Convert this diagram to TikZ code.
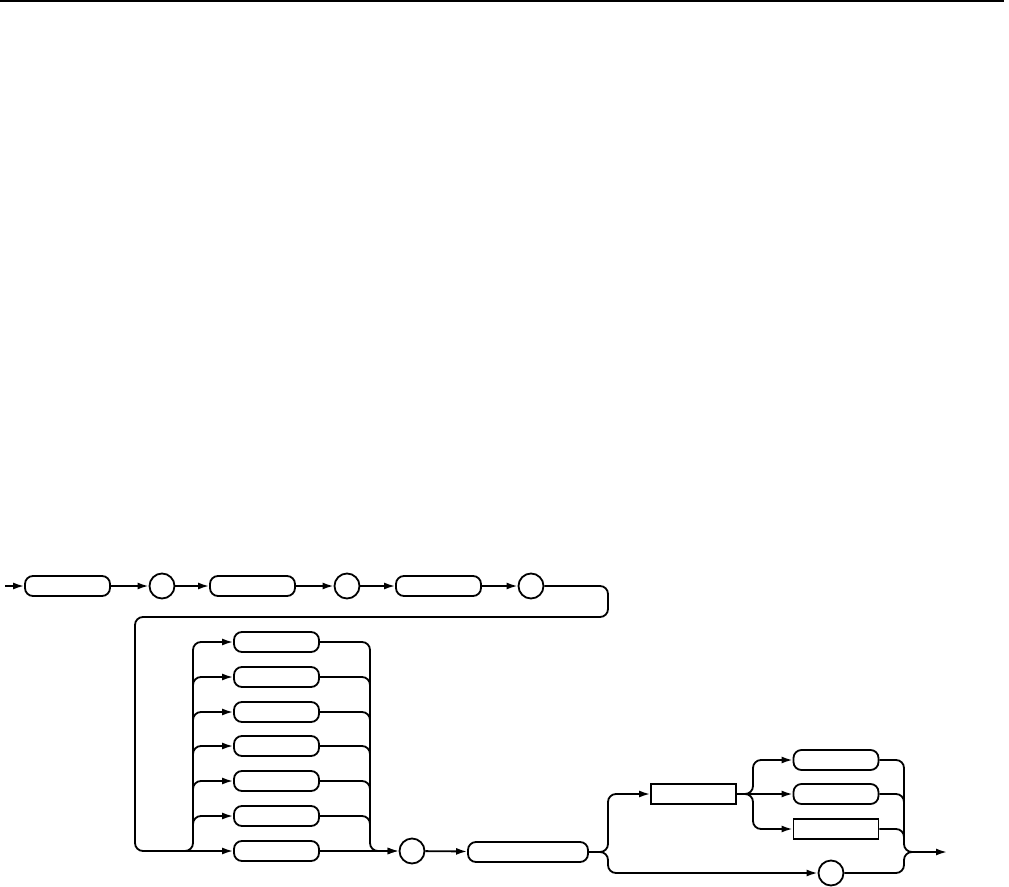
\documentclass[tikz,border=0pt]{standalone}
\usetikzlibrary{arrows.meta}
\tikzset{
  wire/.style={line width=1.8pt, rounded corners=8pt},
  arr/.style={wire, -{Latex[length=11pt,width=7pt]}},
  rbox/.style={draw, line width=1.8pt, rounded corners=8pt, minimum width=85pt, minimum height=20pt, inner sep=0pt},
  sbox/.style={draw, line width=1.8pt, minimum width=85pt, minimum height=20pt, inner sep=0pt},
  circ/.style={draw, line width=1.8pt, circle, minimum size=25pt, inner sep=0pt}
}
\begin{document}
\begin{tikzpicture}[x=1pt,y=-1pt]
\useasboundingbox (0,0) rectangle (1009,886);
\draw[line width=1.5pt] (0,1) -- (1004,1);
% top row
\coordinate (in) at (5,586);
\node[rbox] (b1) at (67.5,586) {};
\node[circ] (c1) at (162,586) {};
\node[rbox] (b2) at (252.5,586) {};
\node[circ] (c2) at (347,586) {};
\node[rbox] (b3) at (438.5,586) {};
\node[circ] (c3) at (531,586) {};
\draw[arr] (in) -- (b1);
\draw[arr] (b1) -- (c1);
\draw[arr] (c1) -- (b2);
\draw[arr] (b2) -- (c2);
\draw[arr] (c2) -- (b3);
\draw[arr] (b3) -- (c3);
% choice rows
\foreach \i/\y in {1/642,2/677,3/712,4/746,5/781,6/816,7/851}{
  \node[rbox] (r\i) at (276.5,\y) {};
}
\node[circ] (c4) at (412,851) {};
\draw[arr] (c3.east) -- (608,586) -- (608,617) -- (135,617) -- (135,851) -- (193,851) -- (193,642) -- (r1.west);
\draw[arr] (180,851) -- (r7.west);
\foreach \i/\y in {2/677,3/712,4/746,5/781,6/816}{
  \draw[arr] (193,\y+14) -- (193,\y) -- (r\i.west);
  \draw[wire] (r\i.east) -- (370,\y) -- (370,\y+14);
}
\draw[arr] (r1.east) -- (370,642) -- (370,851) -- (c4.west);
\draw[arr] (r7.east) -- (c4.west);
% second part
\node[rbox, minimum width=120pt] (b4) at (528,852) {};
\draw[arr] (c4) -- (b4);
\node[sbox] (b5) at (693.5,794) {};
\node[circ] (c5) at (831,873) {};
\draw[arr] (b4.east) -- (608,852) -- (608,794) -- (b5.west);
\draw[arr] (b4.east) -- (608,852) -- (608,873) -- (c5.west);
\node[rbox] (s1) at (836,760) {};
\node[rbox] (s2) at (836,794) {};
\node[sbox] (s3) at (836,829) {};
\draw[arr] (b5.east) -- (753,794) -- (753,760) -- (s1.west);
\draw[arr] (b5.east) -- (s2.west);
\draw[arr] (b5.east) -- (753,794) -- (753,829) -- (s3.west);
\coordinate (out) at (947,852);
\draw[wire] (s1.east) -- (904,760) -- (904,852) -- (915,852);
\draw[wire] (s2.east) -- (904,794) -- (904,808);
\draw[wire] (s3.east) -- (904,829) -- (904,843);
\draw[wire] (c5.east) -- (904,873) -- (904,852) -- (915,852);
\draw[arr] (910,852) -- (out);
\end{tikzpicture}
\end{document}
